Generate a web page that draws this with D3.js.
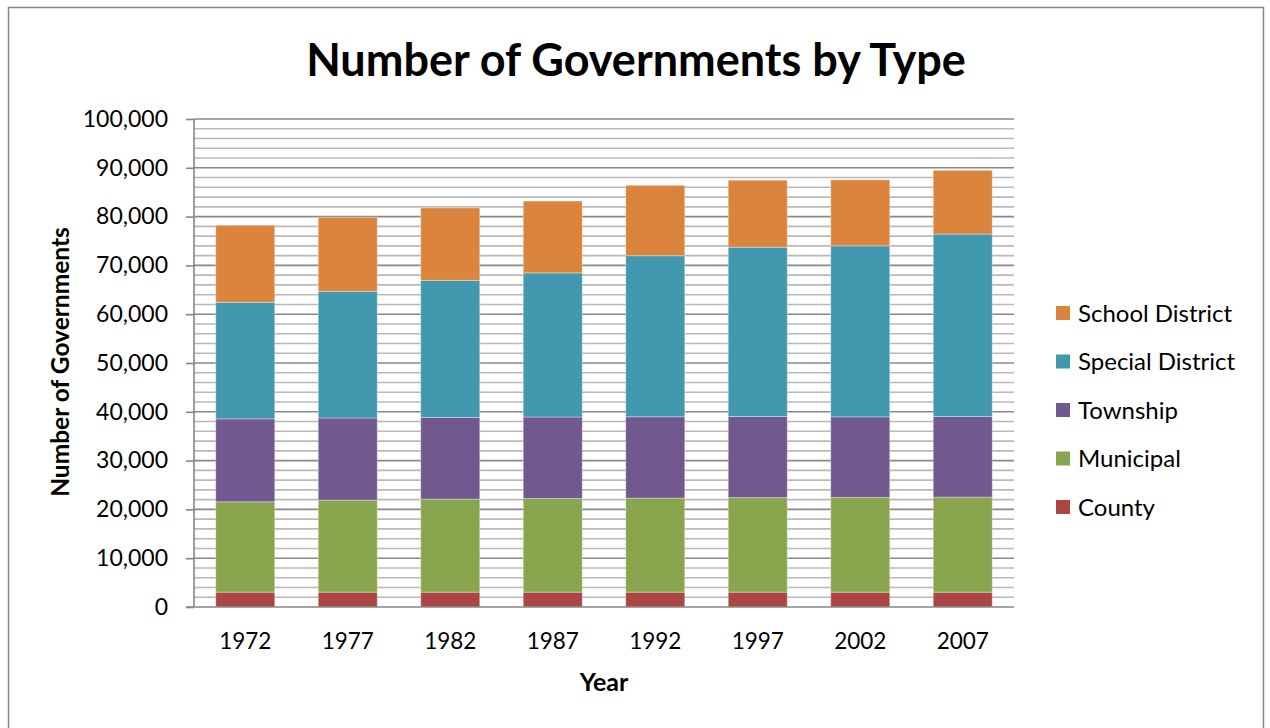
<!DOCTYPE html>
<html>
<head>
<meta charset="utf-8">
<script src="https://cdn.jsdelivr.net/npm/d3@7"></script>
<style>
  body { margin: 0; background: #fff; }
  svg { display: block; font-family: Lato, "Open Sans", sans-serif; }
</style>
</head>
<body>
<div id="chart"></div>
<script>
// Census of Governments counts
var years = ["1972", "1977", "1982", "1987", "1992", "1997", "2002", "2007"];
var county         = [3044, 3042, 3041, 3042, 3043, 3043, 3034, 3033];
var municipal      = [18517, 18862, 19076, 19200, 19279, 19372, 19429, 19492];
var township       = [16991, 16822, 16734, 16691, 16656, 16629, 16504, 16519];
var specialDistrict = [23885, 25962, 28078, 29532, 33010, 34683, 35052, 37381];
var schoolDistrict = [15781, 15174, 14851, 14721, 14422, 13726, 13506, 13051];

var seriesNames = ["County", "Municipal", "Township", "Special District", "School District"];
var seriesColors = ["#AA4643", "#89A54E", "#71588F", "#4198AF", "#DB843D"];
var yTicks = [0, 10000, 20000, 30000, 40000, 50000, 60000, 70000, 80000, 90000, 100000];

var W = 1270, H = 728;
var plot = { left: 194, right: 1014, top: 119, bottom: 607 };

// one row per year, for d3.stack
var rows = years.map(function(y, i) {
    return {
        year: y,
        "County": county[i],
        "Municipal": municipal[i],
        "Township": township[i],
        "Special District": specialDistrict[i],
        "School District": schoolDistrict[i]
    };
});

var stacked = d3.stack().keys(seriesNames)(rows);

var color = d3.scaleOrdinal().domain(seriesNames).range(seriesColors);

var x = d3.scaleBand()
    .domain(years)
    .range([plot.left, plot.right])
    .paddingInner(0.424)
    .paddingOuter(0.212);

var y = d3.scaleLinear().domain([0, 100000]).range([plot.bottom, plot.top]);

var svg = d3.select("#chart").append("svg")
    .attr("width", W)
    .attr("height", H);

svg.append("rect")
    .attr("x", 8.5).attr("y", 7.5)
    .attr("width", 1255).attr("height", 740)
    .attr("fill", "#fff")
    .attr("stroke", "#868686")
    .attr("stroke-width", 1.5);

// gridlines: minor every 2,000, major every 10,000
var minor = d3.range(2000, 100001, 2000).filter(function(v) { return v % 10000 !== 0; });
svg.append("g").selectAll("line")
    .data(minor)
    .enter().append("line")
    .attr("x1", plot.left).attr("x2", plot.right)
    .attr("y1", function(d) { return y(d); })
    .attr("y2", function(d) { return y(d); })
    .attr("stroke", "#b9b9b9")
    .attr("stroke-width", 1.6);

svg.append("g").selectAll("line")
    .data(yTicks.slice(1))
    .enter().append("line")
    .attr("x1", plot.left).attr("x2", plot.right)
    .attr("y1", function(d) { return y(d); })
    .attr("y2", function(d) { return y(d); })
    .attr("stroke", "#888")
    .attr("stroke-width", 1.6);

// bars
svg.append("g").selectAll("g")
    .data(stacked)
    .enter().append("g")
    .attr("fill", function(d) { return color(d.key); })
    .selectAll("rect")
    .data(function(d) { return d; })
    .enter().append("rect")
    .attr("x", function(d) { return x(d.data.year); })
    .attr("width", x.bandwidth())
    .attr("y", function(d) { return y(d[1]); })
    .attr("height", function(d) { return y(d[0]) - y(d[1]); })
    .attr("stroke", "rgba(255,255,255,0.35)")
    .attr("stroke-width", 1);

// y axis
var yAxis = d3.axisLeft(y)
    .tickValues(yTicks)
    .tickFormat(d3.format(","))
    .tickSize(8)
    .tickPadding(18);

var gy = svg.append("g")
    .attr("transform", "translate(" + plot.left + ",0)")
    .call(yAxis);
gy.select(".domain").attr("stroke", "#868686").attr("stroke-width", 1.6)
    .attr("d", "M0," + plot.top + "V" + plot.bottom);
gy.selectAll(".tick line").attr("stroke", "#868686").attr("stroke-width", 1.6);
gy.selectAll(".tick text").attr("font-size", 23).attr("fill", "#000")
    .attr("font-family", "Lato, sans-serif");

// x axis
var xAxis = d3.axisBottom(x).tickSize(0).tickPadding(26);
var gx = svg.append("g")
    .attr("transform", "translate(0," + plot.bottom + ")")
    .call(xAxis);
gx.select(".domain").attr("stroke", "#868686").attr("stroke-width", 1.6)
    .attr("d", "M" + (plot.left - 8) + ",0H" + plot.right);
gx.selectAll(".tick text").attr("font-size", 22.5).attr("fill", "#000")
    .attr("font-family", "Lato, sans-serif");

// titles
svg.append("text")
    .attr("x", 636).attr("y", 76)
    .attr("text-anchor", "middle")
    .attr("font-size", 45).attr("font-weight", "bold")
    .text("Number of Governments by Type");

svg.append("text")
    .attr("x", 604).attr("y", 691)
    .attr("text-anchor", "middle")
    .attr("font-size", 25).attr("font-weight", "bold")
    .text("Year");

svg.append("text")
    .attr("transform", "translate(69,362) rotate(-90)")
    .attr("text-anchor", "middle")
    .attr("font-size", 24.5).attr("font-weight", "bold")
    .text("Number of Governments");

// legend, top to bottom = School District ... County
var legendNames = seriesNames.slice().reverse();
var legend = svg.append("g").selectAll("g")
    .data(legendNames)
    .enter().append("g")
    .attr("transform", function(d, i) {
        return "translate(1056," + (313 + i * 48.5) + ")";
    });
legend.append("rect")
    .attr("x", 0).attr("y", -7)
    .attr("width", 14).attr("height", 14)
    .attr("fill", function(d) { return color(d); });
legend.append("text")
    .attr("x", 22).attr("y", 8.5)
    .attr("font-size", 24)
    .text(function(d) { return d; });
</script>
</body>
</html>
